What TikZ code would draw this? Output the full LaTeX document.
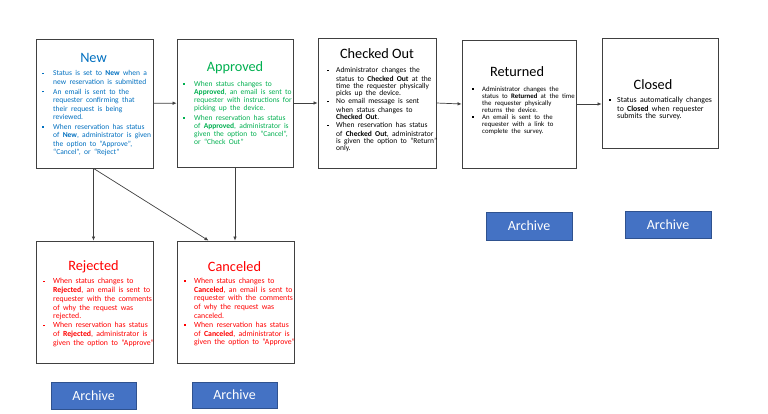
\documentclass[tikz,border=0pt]{standalone}
\usepackage{fontspec}
\setmainfont{Carlito}
\usetikzlibrary{arrows.meta}
\definecolor{newblue}{HTML}{0070C0}
\definecolor{apgreen}{HTML}{00B050}
\definecolor{rejred}{HTML}{FF0000}
\definecolor{archfill}{HTML}{4472C4}
\definecolor{archline}{HTML}{2F528F}
\definecolor{boxline}{HTML}{404040}
\newlength{\bhang}
\newlength{\bgap}
\newcommand{\bitem}[1]{\par\noindent\hangindent=\bhang\hangafter=1\makebox[\bhang][l]{\raisebox{0.22em}{\rule{0.2em}{0.2em}}}\strut#1\strut\par\vspace{\bgap}}
\newcommand{\bodyfont}[4]{\fontsize{#1}{#2}\selectfont\setlength{\bhang}{#3}\setlength{\bgap}{#4}\raggedright}
\tikzset{
  statebox/.style={draw=boxline, line width=0.8pt, fill=white, inner sep=0pt},
  titletext/.style={anchor=base, inner sep=0pt, font=\fontsize{14.3}{16}\selectfont},
  bodytext/.style={anchor=north west, inner sep=0pt, text width=130pt},
  arr/.style={draw=boxline, line width=0.7pt, -{Latex[length=4pt,width=3.6pt]}},
  archive/.style={draw=archline, line width=0.6pt, fill=archfill, text=white, inner sep=0pt, font=\fontsize{14}{16}\selectfont},
}
\begin{document}
\begin{tikzpicture}[x=1pt,y=-1pt]
\useasboundingbox[fill=white] (0,0) rectangle (768,414);

% state boxes
\node[statebox, minimum width=117pt, minimum height=129pt] (new) at (94.5,103.5) {};
\node[statebox, minimum width=116pt, minimum height=128pt] (approved) at (235,103) {};
\node[statebox, minimum width=118pt, minimum height=130pt] (checked) at (377,103) {};
\node[statebox, minimum width=114pt, minimum height=128pt] (returned) at (519,104) {};
\node[statebox, minimum width=116pt, minimum height=110pt] (closed) at (660,93) {};
\node[statebox, minimum width=117pt, minimum height=122pt] (rejected) at (94.5,302) {};
\node[statebox, minimum width=117pt, minimum height=122pt] (canceled) at (235.5,302) {};

% titles
\node[titletext, text=newblue] (tnew) at (93.5,63) {New};
\node[titletext, text=apgreen] (tapproved) at (235,72) {Approved};
\node[titletext] (tchecked) at (377,59) {Checked Out};
\node[titletext] (treturned) at (517,77) {Returned};
\node[titletext] (tclosed) at (653,90) {Closed};
\node[titletext, text=rejred] (trejected) at (93.5,270) {Rejected};
\node[titletext, text=rejred] (tcanceled) at (234.5,271) {Canceled};

% bodies
\node[bodytext, text=newblue] (bnew) at (42,67) {\bodyfont{7.5}{8.5}{11pt}{1.4pt}%
\bitem{Status is set to \textbf{New} when a\newline new reservation is submitted}%
\bitem{An email is sent to the\newline requester confirming that\newline their request is being\newline reviewed.}%
\bitem{When reservation has status\newline of \textbf{New}, administrator is given\newline the option to “Approve”,\newline “Cancel”, or “Reject”}};

\node[bodytext, text=apgreen] (bapproved) at (183,78) {\bodyfont{7.5}{8.2}{11pt}{1.2pt}%
\bitem{When status changes to\newline \textbf{Approved}, an email is sent to\newline requester with instructions for\newline picking up the device.}%
\bitem{When reservation has status\newline of \textbf{Approved}, administrator is\newline given the option to “Cancel”,\newline or “Check Out”}};

\node[bodytext] (bchecked) at (327,65.5) {\bodyfont{7.5}{7.15}{9pt}{0pt}%
\bitem{Administrator changes the\newline status to \textbf{Checked Out} at the\newline time the requester physically\newline picks up the device.}%
\bitem{No email message is sent\newline when status changes to\newline \textbf{Checked Out}.}%
\bitem{When reservation has status\newline of \textbf{Checked Out}, administrator\newline is given the option to “Return”\newline only.}};

\node[bodytext] (breturned) at (472,84) {\bodyfont{6.8}{7.0}{10pt}{0pt}%
\bitem{Administrator changes the\newline status to \textbf{Returned} at the time\newline the requester physically\newline returns the device.}%
\bitem{An email is sent to the\newline requester with a link to\newline complete the survey.}};

\node[bodytext] (bclosed) at (609,95) {\bodyfont{7.8}{7.3}{8pt}{0pt}%
\bitem{Status automatically changes\newline to \textbf{Closed} when requester\newline submits the survey.}};

\node[bodytext, text=rejred] (brejected) at (43,275) {\bodyfont{7.8}{8.7}{10pt}{0.4pt}%
\bitem{When status changes to\newline \textbf{Rejected}, an email is sent to\newline requester with the comments\newline of why the request was\newline rejected.}%
\bitem{When reservation has status\newline of \textbf{Rejected}, administrator is\newline given the option to “Approve”}};

\node[bodytext, text=rejred] (bcanceled) at (184,274.5) {\bodyfont{7.8}{8.7}{10pt}{0.4pt}%
\bitem{When status changes to\newline \textbf{Canceled}, an email is sent to\newline requester with the comments\newline of why the request was\newline canceled.}%
\bitem{When reservation has status\newline of \textbf{Canceled}, administrator is\newline given the option to “Approve”}};

% archive buttons
\node[archive, minimum width=85pt, minimum height=27pt] (arej) at (93.5,395.5) {Archive};
\node[archive, minimum width=85pt, minimum height=26pt] (acan) at (234.5,395) {Archive};
\node[archive, minimum width=86pt, minimum height=28pt] (aret) at (529,226) {Archive};
\node[archive, minimum width=86pt, minimum height=27pt] (aclo) at (668,224.5) {Archive};

% connectors
\coordinate (cantop) at ([xshift=-27pt]canceled.north);
\draw[arr] (new) -- (approved);
\draw[arr] (approved) -- (checked);
\draw[arr] (checked.east) -- (returned.west);
\draw[arr] (returned.east) -- (returned.east -| closed.west);
\draw[arr] ([xshift=-1pt]new.south) -- ([xshift=-1pt]new.south |- rejected.north);
\draw[arr] ([xshift=-1pt]new.south) -- (cantop);
\draw[arr] (approved.south) -- (approved.south |- canceled.north);
\end{tikzpicture}
\end{document}
